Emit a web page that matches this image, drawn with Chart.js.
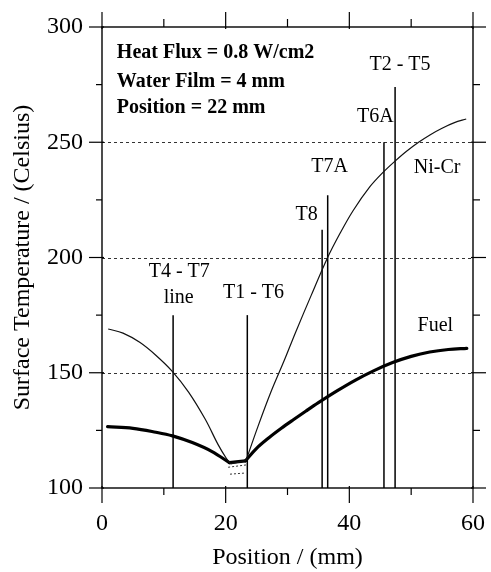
<!DOCTYPE html>
<html><head><meta charset="utf-8">
<script src="https://cdn.jsdelivr.net/npm/chart.js@4.4.1/dist/chart.umd.min.js"></script>
<style>html,body{margin:0;padding:0;background:#fff}#wrap{width:491px;height:572px}</style>
</head><body><div id="wrap"><canvas id="c" width="491" height="572"></canvas></div>
<script>
// ---- data ----
const niCrPositions = [1.0, 3.4, 6.1, 8.7, 11.4, 14.0, 16.7, 18.8, 20.1, 20.8, 23.3, 25.2, 27.3, 29.5, 31.3, 33.9, 36.4, 38.5, 40.6, 43.3, 45.4, 47.3, 49.2, 51.2, 53.1, 55.0, 57.0, 58.9];
const niCrTemps     = [169.0, 167.2, 163.2, 157.6, 150.5, 141.6, 129.8, 118.7, 112.9, 110.5, 112.0, 126.5, 141.5, 155.5, 167.5, 184.0, 199.5, 210.5, 220.3, 230.6, 236.8, 241.6, 246.0, 250.0, 253.3, 256.1, 258.5, 260.1];
const fuelPositions = [0.9, 5.0, 8.7, 11.4, 14.6, 17.8, 20.6, 23.2, 25.0, 27.0, 29.0, 31.0, 33.0, 35.0, 38.0, 41.0, 44.0, 47.0, 50.0, 53.0, 56.0, 59.0];
const fuelTemps     = [126.6, 125.9, 124.2, 122.6, 119.7, 115.8, 111.0, 111.8, 117.2, 121.8, 125.9, 129.7, 133.4, 137.0, 142.1, 146.8, 150.9, 154.4, 157.1, 159.0, 160.1, 160.6];
const minUpperPositions = [20.4, 23.3];
const minUpperTemps     = [109.0, 110.0];
const minLowerPositions = [20.7, 23.2];
const minLowerTemps     = [106.0, 106.5];
const thermocoupleNames     = ['T4 - T7 line', 'T1 - T6', 'T8', 'T7A', 'T6A', 'T2 - T5'];
const thermocouplePositions = [11.5, 23.5, 35.6, 36.5, 45.6, 47.4];
const thermocoupleTops      = [175, 175, 212, 227, 250, 274];
const xMajorTicks = [0, 20, 40, 60];
const xMinorTicks = [10, 30, 50];
const yMajorTicks = [100, 150, 200, 250, 300];
const yMinorTicks = [125, 175, 225, 275];
const gridValues  = [150, 200, 250];
const infoLines   = ['Heat Flux = 0.8 W/cm2', 'Water Film = 4 mm', 'Position = 22 mm'];
const labelTexts  = ['T4 - T7', 'line', 'T1 - T6', 'T8', 'T7A', 'T6A', 'T2 - T5', 'Ni-Cr', 'Fuel'];
const labelX      = [12.5, 12.4, 24.5, 33.1, 36.8, 44.2, 48.2, 54.2, 53.9];
const labelY      = [193.7, 182.4, 184.6, 218.4, 239.3, 261.0, 283.5, 238.8, 170.3];

const SERIF = '"Liberation Serif", "Times New Roman", serif';
const zip = (xs, ys) => xs.map((v, i) => ({x: v, y: ys[i]}));

// split a curve at its minimum "step" so the corners stay sharp, as in the original
function splitCurve(xs, ys, lo, hi, style) {
  const pts = zip(xs, ys);
  const i1 = xs.indexOf(lo), i2 = xs.indexOf(hi);
  return [
    Object.assign({data: pts.slice(0, i1 + 1), tension: 0.35}, style),
    Object.assign({data: pts.slice(i1, i2 + 1), tension: 0}, style),
    Object.assign({data: pts.slice(i2), tension: 0.35}, style)
  ];
}

const datasets = [
  ...splitCurve(niCrPositions, niCrTemps, 20.8, 23.3, {label: 'Ni-Cr', borderColor: '#111', borderWidth: 1.2}),
  ...splitCurve(fuelPositions, fuelTemps, 20.6, 23.2, {label: 'Fuel', borderColor: '#000', borderWidth: 3.2, borderJoinStyle: 'round', borderCapStyle: 'round'}),
  {label: 'min-a', data: zip(minUpperPositions, minUpperTemps), borderColor: '#333', borderWidth: 1, borderDash: [2, 2]},
  {label: 'min-b', data: zip(minLowerPositions, minLowerTemps), borderColor: '#333', borderWidth: 1, borderDash: [2, 2]}
];
thermocouplePositions.forEach((p, i) => {
  datasets.push({label: thermocoupleNames[i], data: [{x: p, y: 100}, {x: p, y: thermocoupleTops[i]}], borderColor: '#000', borderWidth: 1.5});
});
datasets.forEach(d => { d.showLine = true; d.pointRadius = 0; d.fill = false; });

const decor = {
  id: 'decor',
  beforeDatasetsDraw(chart) {
    const {ctx, chartArea: a, scales: {y}} = chart;
    ctx.save();
    ctx.strokeStyle = '#333'; ctx.lineWidth = 1; ctx.setLineDash([3, 3]);
    gridValues.forEach(v => {
      const py = Math.round(y.getPixelForValue(v)) + 0.5;
      ctx.beginPath(); ctx.moveTo(a.left, py); ctx.lineTo(a.right, py); ctx.stroke();
    });
    ctx.restore();
  },
  afterDatasetsDraw(chart) {
    const {ctx, chartArea: a, scales: {x, y}} = chart;
    ctx.save();
    ctx.strokeStyle = '#000'; ctx.lineWidth = 1.4;
    ctx.strokeRect(a.left, a.top, a.right - a.left, a.bottom - a.top);
    const seg = (x1, y1, x2, y2) => { ctx.beginPath(); ctx.moveTo(x1, y1); ctx.lineTo(x2, y2); ctx.stroke(); };
    ctx.lineWidth = 1.2;
    xMajorTicks.forEach(v => { const px = x.getPixelForValue(v); seg(px, a.bottom - 2, px, a.bottom + 15); seg(px, a.top + 2, px, a.top - 15); });
    xMinorTicks.forEach(v => { const px = x.getPixelForValue(v); seg(px, a.bottom, px, a.bottom + 7); seg(px, a.top, px, a.top - 8); });
    yMajorTicks.forEach(v => { const py = y.getPixelForValue(v); seg(a.left + 2, py, a.left - 13, py); seg(a.right - 2, py, a.right + 13, py); });
    yMinorTicks.forEach(v => { const py = y.getPixelForValue(v); seg(a.left, py, a.left - 6, py); seg(a.right, py, a.right + 7, py); });
    // labels
    ctx.fillStyle = '#000';
    ctx.textAlign = 'center'; ctx.textBaseline = 'middle';
    ctx.font = '20px ' + SERIF;
    labelTexts.forEach((t, i) => ctx.fillText(t, x.getPixelForValue(labelX[i]), y.getPixelForValue(labelY[i])));
    ctx.font = 'bold 20px ' + SERIF;
    ctx.textAlign = 'left';
    const infoY = [288.7, 276.1, 264.8];
    infoLines.forEach((t, i) => ctx.fillText(t, x.getPixelForValue(2.4), y.getPixelForValue(infoY[i])));
    ctx.restore();
  }
};

new Chart(document.getElementById('c'), {
  type: 'scatter',
  data: {datasets},
  options: {
    responsive: false, animation: false, devicePixelRatio: 1,
    layout: {padding: {top: 27, right: 14, left: 0, bottom: 0}},
    plugins: {legend: {display: false}, tooltip: {enabled: false}},
    scales: {
      x: {
        type: 'linear', min: 0, max: 60,
        afterBuildTicks: s => { s.ticks = xMajorTicks.map(v => ({value: v})); },
        afterFit: s => { s.height = 84; },
        grid: {display: false, drawTicks: true, tickLength: 15},
        border: {display: false},
        ticks: {color: '#000', padding: 6, font: {family: SERIF, size: 24}, maxRotation: 0},
        title: {display: true, text: 'Position / (mm)', color: '#000', font: {family: SERIF, size: 24}, padding: {top: 0, bottom: 0}}
      },
      y: {
        type: 'linear', min: 100, max: 300,
        afterBuildTicks: s => { s.ticks = yMajorTicks.map(v => ({value: v})); },
        afterFit: s => { s.width = 102; },
        grid: {display: false, drawTicks: true, tickLength: 13},
        border: {display: false},
        ticks: {color: '#000', padding: 6, font: {family: SERIF, size: 24}},
        title: {display: true, text: 'Surface Temperature / (Celsius)', color: '#000', font: {family: SERIF, size: 24}, padding: {top: 8, bottom: 0}}
      }
    }
  },
  plugins: [decor]
});
</script>
</body></html>
